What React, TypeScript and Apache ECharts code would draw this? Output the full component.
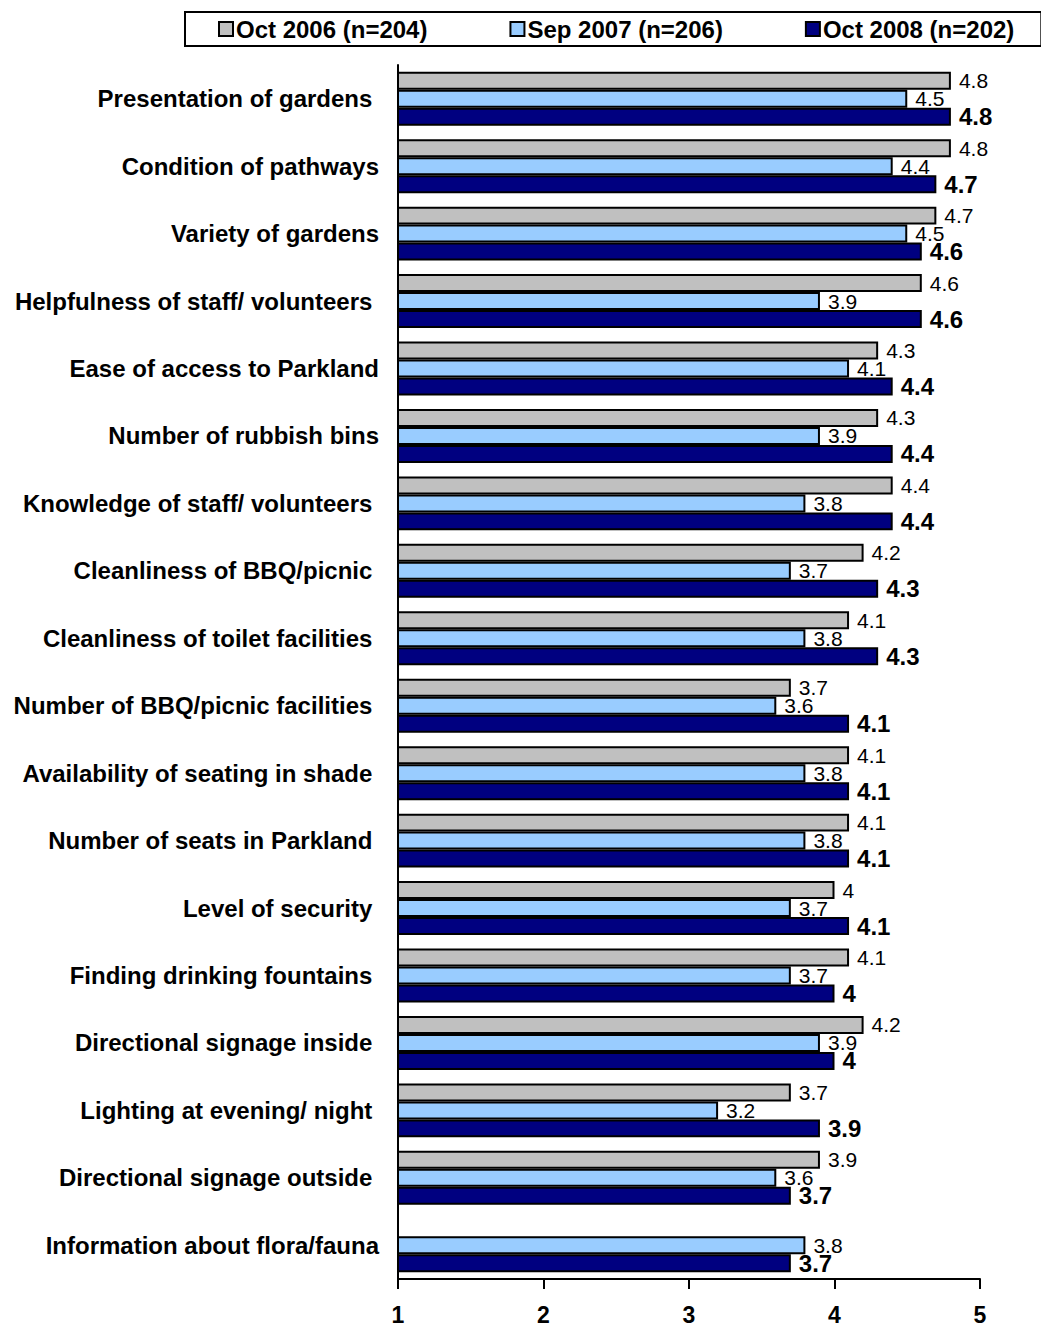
import React, { useEffect, useRef } from "react";
import * as echarts from "echarts";

const categories = [
  "Presentation of gardens ",
  "Condition of pathways",
  "Variety of gardens",
  "Helpfulness of staff/ volunteers ",
  "Ease of access to Parkland",
  "Number of rubbish bins",
  "Knowledge of staff/ volunteers ",
  "Cleanliness of BBQ/picnic ",
  "Cleanliness of toilet facilities ",
  "Number of BBQ/picnic facilities ",
  "Availability of seating in shade ",
  "Number of seats in Parkland ",
  "Level of security ",
  "Finding drinking fountains ",
  "Directional signage inside ",
  "Lighting at evening/ night ",
  "Directional signage outside ",
  "Information about flora/fauna",
];

const seriesNames = ["Oct 2006 (n=204)", "Sep 2007 (n=206)", "Oct 2008 (n=202)"];

const oct2006 = [4.8, 4.8, 4.7, 4.6, 4.3, 4.3, 4.4, 4.2, 4.1, 3.7, 4.1, 4.1, 4, 4.1, 4.2, 3.7, 3.9, null];
const sep2007 = [4.5, 4.4, 4.5, 3.9, 4.1, 3.9, 3.8, 3.7, 3.8, 3.6, 3.8, 3.8, 3.7, 3.7, 3.9, 3.2, 3.6, 3.8];
const oct2008 = [4.8, 4.7, 4.6, 4.6, 4.4, 4.4, 4.4, 4.3, 4.3, 4.1, 4.1, 4.1, 4.1, 4, 4, 3.9, 3.7, 3.7];

const xTicks = [1, 2, 3, 4, 5];

const FONT = "'Liberation Sans', Arial, sans-serif";

export default function App() {
  const ref = useRef<HTMLDivElement>(null);
  useEffect(() => {
    if (!ref.current) return;
    const chart = echarts.init(ref.current, undefined, { renderer: "svg" });
    const colors = ["#C0C0C0", "#99CCFF", "#000080"];
    const datas = [oct2006, sep2007, oct2008];
    const labelStyles = [
      { fontSize: 21, fontWeight: "normal" },
      { fontSize: 21, fontWeight: "normal" },
      { fontSize: 24, fontWeight: "bold" },
    ];
    chart.setOption({
      animation: false,
      textStyle: { fontFamily: FONT },
      legend: {
        left: 185,
        top: 12,
        width: 1000,
        orient: "horizontal",
        borderColor: "#000",
        borderWidth: 2,
        padding: [5, 27, 5, 33],
        itemGap: 82,
        itemWidth: 14,
        itemHeight: 14,
        icon: "rect",
        textStyle: { fontFamily: FONT, fontSize: 24, fontWeight: "bold", color: "#000", padding: [0, 0, 0, -2] },
        data: seriesNames,
      },
      grid: { left: 398, right: 61, top: 65, bottom: 46, containLabel: false },
      xAxis: {
        type: "value",
        min: xTicks[0],
        max: xTicks[xTicks.length - 1],
        interval: 1,
        axisLine: { show: true, lineStyle: { color: "#000", width: 2 } },
        axisTick: { show: true, length: 10, inside: false, lineStyle: { color: "#000", width: 2 } },
        axisLabel: { fontFamily: FONT, fontSize: 23, fontWeight: "bold", color: "#000", margin: 24 },
        splitLine: { show: false },
      },
      yAxis: {
        type: "category",
        inverse: true,
        data: categories,
        axisLine: { show: true, lineStyle: { color: "#000", width: 2 } },
        axisTick: { show: false },
        axisLabel: { fontFamily: FONT, fontSize: 24, fontWeight: "bold", color: "#000", margin: 19 },
      },
      series: seriesNames.map((name, i) => ({
        name,
        type: "bar",
        data: datas[i],
        barGap: "0%",
        barCategoryGap: "20%",
        itemStyle: { color: colors[i], borderColor: "#000", borderWidth: 2 },
        label: {
          show: true,
          position: "right",
          distance: 8,
          color: "#000",
          fontFamily: FONT,
          fontSize: labelStyles[i].fontSize,
          fontWeight: labelStyles[i].fontWeight,
        },
      })),
    });
    return () => chart.dispose();
  }, []);
  return (
    <div
      ref={ref}
      style={{ position: "absolute", left: 0, top: 0, width: 1041, height: 1326, background: "#fff" }}
    />
  );
}
